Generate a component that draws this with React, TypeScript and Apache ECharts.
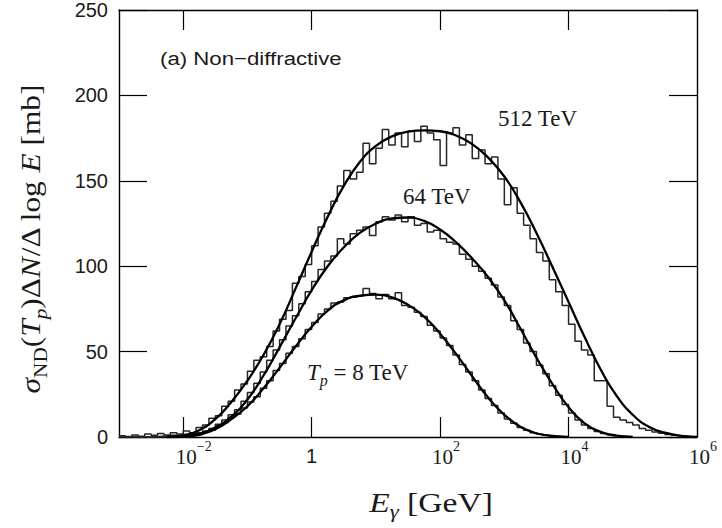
import React, { useEffect, useRef } from 'react';
import * as echarts from 'echarts';

// x axis in log10(E_gamma / GeV)
const X_MIN = -3;
const X_MAX = 6;
const X_TICKS = [-2, 0, 2, 4];
const X_LABELS = [-2, 0, 2, 4, 6];
const Y_MIN = 0;
const Y_MAX = 250;
const Y_STEP = 50;

// smooth parametrisation curves (log10 E, mb)
const CURVE_LOGE_8 = [-2.25, -2, -1.75, -1.5, -1.25, -1, -0.75, -0.5, -0.25, 0, 0.25, 0.5, 0.75, 1, 1.25, 1.5, 1.75, 2, 2.25, 2.5, 2.75, 3, 3.25, 3.5, 3.75, 4];
const CURVE_8 = [0, 0.3, 1.3, 4.5, 10.5, 18, 28.5, 40.5, 53, 64.5, 74, 80, 82.7, 83.3, 81.8, 77.5, 70.5, 60.5, 48.5, 35.5, 23, 13, 6, 2.2, 0.6, 0];

const CURVE_LOGE_64 = [-2.25, -2, -1.75, -1.5, -1.25, -1, -0.75, -0.5, -0.25, 0, 0.25, 0.5, 0.75, 1, 1.25, 1.5, 1.75, 2, 2.25, 2.5, 2.75, 3, 3.25, 3.5, 3.75, 4, 4.25, 4.5, 4.75, 5];
const CURVE_64 = [0, 0.4, 1.8, 5.5, 12, 22, 36, 52.5, 69.5, 86, 100, 111, 119.5, 125, 128, 128.5, 126.5, 121.5, 114, 104.5, 93.5, 80, 63.5, 46.5, 31, 17.5, 8, 3, 0.8, 0];

const CURVE_LOGE_512 = [-2.25, -2, -1.75, -1.5, -1.25, -1, -0.75, -0.5, -0.25, 0, 0.25, 0.5, 0.75, 1, 1.25, 1.5, 1.75, 2, 2.25, 2.5, 2.75, 3, 3.25, 3.5, 3.75, 4, 4.25, 4.5, 4.75, 5, 5.25, 5.5, 5.75, 6];
const CURVE_512 = [0, 1, 4, 10.5, 20.5, 33, 48, 66, 87, 108.5, 129, 147, 161, 170.5, 176, 178.8, 179.5, 179, 176.5, 171.5, 163.5, 152.5, 137.5, 119.5, 99.5, 79, 58.5, 39.5, 24, 13, 6, 2.5, 0.7, 0];

// simulated histograms, bins of 0.1 decade starting at log10 E = -3
const HIST_START = -3;
const HIST_BIN = 0.1;
const HIST_8 = [
  0, 0, 0, 0, 0, 0, 0.3, 0.5, 0.5, 0.8,
  1, 1, 1.5, 3, 4, 6.5, 8.5, 11.5, 13.5, 17,
  20.5, 23.5, 28.5, 33, 39, 43, 49, 53, 57.5, 63,
  67, 72, 75, 78.5, 79, 81.5, 82, 82.5, 87, 84,
  81, 83.5, 81, 84.5, 77, 76, 73, 70.5, 65.5, 62,
  58, 53.5, 48, 42.5, 38, 33, 27.5, 22.5, 18.5, 14,
  10.5, 8, 5.5, 4, 2.5, 1.7, 1, 0.5, 0.3, 0,
];
const HIST_64 = [
  0, 0, 0, 0, 0, 0.3, 0.5, 0.5, 1, 1,
  1.5, 2, 2.5, 3.5, 5, 7.5, 10, 13, 16, 21,
  26, 31.5, 38, 45, 51, 57, 65, 71, 78, 85,
  91, 98, 103, 106, 116, 113, 119, 121, 123, 118,
  126, 129, 127, 130, 126, 129, 124, 125, 120, 121,
  116, 114, 113, 107, 104, 100, 97, 93, 89, 82,
  77, 68, 63, 55, 50, 42, 37, 30, 24.5, 19,
  14, 10, 7, 5, 3.2, 2, 1.3, 0.8, 0.5, 0.2,
];
const HIST_512 = [
  0.8, 0.3, 1.2, 0.5, 1.8, 1.0, 2.0, 1.2, 2.5, 1.8,
  3.5, 2.5, 5.5, 7, 11, 12.5, 18, 21, 27.5, 31,
  38.5, 45, 47, 53, 62, 69, 74, 90, 94, 101,
  112, 123, 131, 138, 147, 156, 151, 155, 172, 160,
  169, 180, 171, 178, 170, 179, 173, 182, 178, 174,
  159, 178, 181, 171, 177, 163, 168, 160, 164, 151,
  136, 146, 131, 124, 116, 108, 103, 92, 85, 77,
  66, 56, 51, 48, 33, 33, 18, 11.6, 10, 8.5,
  7, 5, 4, 3, 2.2, 1.5, 1, 0.6, 0.3, 0.1,
];

const SERIF = '"Liberation Serif", "Times New Roman", serif';
const SANS = '"Liberation Sans", Arial, sans-serif';
const INK = '#1a1a1a';

function histData(vals: number[]) {
  const d: number[][] = vals.map((v, i) => [HIST_START + i * HIST_BIN, v]);
  d.push([HIST_START + vals.length * HIST_BIN, vals[vals.length - 1]]);
  return d;
}

function curveData(xs: number[], ys: number[]) {
  return xs.map((x, i) => [x, ys[i]]);
}

const histSeries = (vals: number[]) => ({
  type: 'line',
  data: histData(vals),
  step: 'end',
  symbol: 'none',
  silent: true,
  z: 2,
  lineStyle: { color: '#262626', width: 1.5 },
});

const curveSeries = (xs: number[], ys: number[]) => ({
  type: 'line',
  data: curveData(xs, ys),
  smooth: 0.5,
  symbol: 'none',
  silent: true,
  z: 3,
  lineStyle: { color: '#000', width: 2.3 },
});

const fmtX = (v: number) => {
  if (v === 0) return '{one|1}';
  const e = (v < 0 ? '\u2212' : '') + Math.abs(v);
  return `{${v < 0 ? 'padL' : 'padS'}| }{base|10}{sup|${e}}`;
};

function titleRich(size: number, subSize: number, subDrop: number) {
  const rm = { fontFamily: SERIF, fontSize: size, lineHeight: size + 2, verticalAlign: 'top', fill: INK, color: INK };
  const sub = { fontFamily: SERIF, fontSize: subSize, lineHeight: subSize, padding: [subDrop, 0, 0, 0], verticalAlign: 'top', fill: INK, color: INK };
  return {
    rm,
    it: { ...rm, fontStyle: 'italic' },
    sub,
    subi: { ...sub, fontStyle: 'italic' },
  };
}

export default function App() {
  const ref = useRef<HTMLDivElement>(null);
  useEffect(() => {
    document.body.style.margin = '0';
    if (!ref.current) return;
    const chart = echarts.init(ref.current, undefined, { renderer: 'svg' });
    const axisLine = { show: true, onZero: false, lineStyle: { color: '#000', width: 1.4 } };
    const xTick = { show: true, inside: true, length: 20, customValues: X_TICKS, lineStyle: { color: '#000', width: 1.2 } };
    const yTick = { show: true, inside: true, length: 28, lineStyle: { color: '#000', width: 1.2 } };
    chart.setOption({
      animation: false,
      backgroundColor: '#fff',
      grid: { left: 119, right: 25, top: 8, bottom: 91, containLabel: false },
      xAxis: [
        {
          type: 'value', min: X_MIN, max: X_MAX, position: 'bottom',
          axisLine, axisTick: xTick, splitLine: { show: false },
          axisLabel: {
            customValues: X_LABELS, margin: 2, formatter: fmtX, color: INK,
            rich: {
              base: { fontFamily: SERIF, fontSize: 21, lineHeight: 22, padding: [7, 0, 0, 0], verticalAlign: 'top', color: INK },
              sup: { fontFamily: SERIF, fontSize: 14, lineHeight: 14, verticalAlign: 'top', color: INK },
              one: { fontFamily: SANS, fontSize: 20, lineHeight: 22, padding: [7, 0, 0, 0], verticalAlign: 'top', color: INK },
              padL: { width: 21, fontSize: 14, lineHeight: 14, verticalAlign: 'top' },
              padS: { width: 12, fontSize: 14, lineHeight: 14, verticalAlign: 'top' },
            },
          },
        },
        {
          type: 'value', min: X_MIN, max: X_MAX, position: 'top',
          axisLine, axisTick: xTick, splitLine: { show: false }, axisLabel: { show: false },
        },
      ],
      yAxis: [
        {
          type: 'value', min: Y_MIN, max: Y_MAX, interval: Y_STEP, position: 'left',
          axisLine, axisTick: yTick, splitLine: { show: false },
          axisLabel: { fontFamily: SANS, fontSize: 20, color: INK, margin: 11 },
        },
        {
          type: 'value', min: Y_MIN, max: Y_MAX, interval: Y_STEP, position: 'right',
          axisLine, axisTick: yTick, splitLine: { show: false }, axisLabel: { show: false },
        },
      ],
      series: [
        histSeries(HIST_512),
        histSeries(HIST_64),
        histSeries(HIST_8),
        curveSeries(CURVE_LOGE_512, CURVE_512),
        curveSeries(CURVE_LOGE_64, CURVE_64),
        curveSeries(CURVE_LOGE_8, CURVE_8),
      ],
      graphic: [
        {
          type: 'text', x: 160, y: 58, scaleX: 1.17, silent: true,
          style: { text: '(a) Non\u2212diffractive', font: `19px ${SANS}`, fill: INK, verticalAlign: 'middle', align: 'left' },
        },
        {
          type: 'text', x: 498, y: 118, silent: true,
          style: { text: '512 TeV', font: `23px ${SERIF}`, fill: INK, verticalAlign: 'middle', align: 'left' },
        },
        {
          type: 'text', x: 403, y: 196, silent: true,
          style: { text: '64 TeV', font: `23px ${SERIF}`, fill: INK, verticalAlign: 'middle', align: 'left' },
        },
        {
          type: 'text', x: 307, y: 373, silent: true,
          style: {
            text: '{it|T}{subi|p}{rm| = 8 TeV}', rich: titleRich(23, 16, 12),
            verticalAlign: 'middle', align: 'left', fill: INK,
          },
        },
        {
          type: 'text', x: 431, y: 503, scaleX: 1.2, silent: true,
          style: {
            text: '{it|E}{subi|\u03b3}{rm| [GeV]}', rich: titleRich(28, 19, 14),
            verticalAlign: 'middle', align: 'center', fill: INK,
          },
        },
        {
          type: 'text', x: 32, y: 239, rotation: Math.PI / 2, scaleX: 1.12, silent: true,
          style: {
            text: '{it|\u03c3}{sub|ND}{rm|(}{it|T}{subi|p}{rm|)\u0394}{it|N}{rm|/\u0394 log }{it|E}{rm| [mb]}',
            rich: titleRich(28, 19, 14),
            verticalAlign: 'middle', align: 'center', fill: INK,
          },
        },
      ],
    });
    return () => chart.dispose();
  }, []);
  return <div ref={ref} style={{ width: 722, height: 528 }} />;
}
